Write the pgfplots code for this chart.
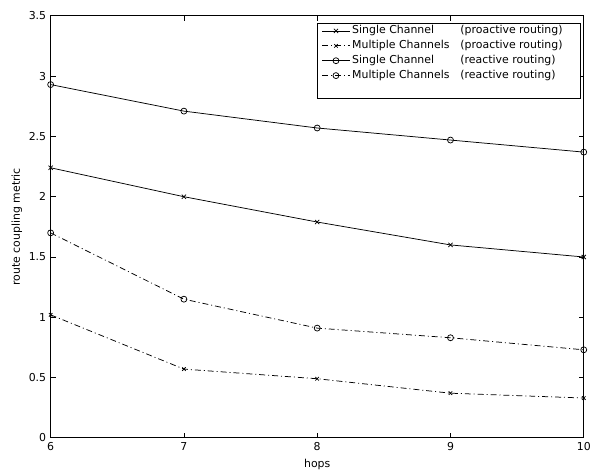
\documentclass[border=0pt]{standalone}
\usepackage{fontspec}
\setmainfont{DejaVu Sans}
\usepackage{pgfplots}
\pgfplotsset{compat=1.18}
\begin{document}
\begin{tikzpicture}
\begin{axis}[
  scale only axis,
  width=537bp, height=425bp,
  xmin=6, xmax=10, ymin=0, ymax=3.5,
  xtick={6,7,8,9,10},
  ytick={0,0.5,1,1.5,2,2.5,3,3.5},
  yticklabels={0,0.5,1,1.5,2,2.5,3,3.5},
  tick align=inside,
  major tick length=5bp,
  /pgf/number format/assume math mode=true,
  tick label style={font=\fontsize{11bp}{13bp}\selectfont},
  label style={font=\fontsize{11bp}{13bp}\selectfont},
  xticklabel style={yshift=-1bp},
  yticklabel style={xshift=-1bp},
  xlabel={hops},
  ylabel={route coupling metric},
  xlabel style={at={(axis description cs:0.5,-0.0635)}, anchor=center},
  ylabel style={at={(axis description cs:-0.0635,0.5)}, anchor=center},
  axis line style={line width=0.8bp},
  every tick/.style={line width=0.8bp, black},
  legend style={at={(0.9944,0.9835)}, anchor=north east, font=\fontsize{11bp}{13bp}\selectfont,
     draw=black, line width=0.8bp, row sep=4.5bp, inner xsep=4bp, inner ysep=2.5bp,
     nodes={inner xsep=2bp, inner ysep=0bp, text height=8bp, text depth=2.5bp}},
  legend image code/.code={\draw[mark repeat=2,mark phase=2] plot coordinates {(0bp,0bp)(14bp,0bp)(28bp,0bp)};},
  legend cell align=left,
  every axis plot/.append style={line width=0.75bp, black},
  xtick pos=both, ytick pos=both,
]
\addplot[solid, mark=x, mark size=3bp, mark options={solid}] coordinates {(6,2.24) (7,2.00) (8,1.79) (9,1.60) (10,1.50)};
\addlegendentry{\makebox[109bp][l]{Single Channel}(proactive routing)\rule{12bp}{0pt}}
\addplot[dash pattern=on 6bp off 3bp on 1bp off 3bp, mark=x, mark size=2.5bp, mark options={solid}] coordinates {(6,1.02) (7,0.57) (8,0.49) (9,0.37) (10,0.33)};
\addlegendentry{\makebox[109bp][l]{Multiple Channels}(proactive routing)\rule{12bp}{0pt}}
\addplot[solid, mark=o, mark size=3bp, mark options={solid}] coordinates {(6,2.93) (7,2.71) (8,2.57) (9,2.47) (10,2.37)};
\addlegendentry{\makebox[109bp][l]{Single Channel}(reactive routing)}
\addplot[dash pattern=on 6bp off 3bp on 1bp off 3bp, mark=o, mark size=3bp, mark options={solid}] coordinates {(6,1.70) (7,1.15) (8,0.91) (9,0.83) (10,0.73)};
\addlegendentry{\makebox[109bp][l]{Multiple Channels}(reactive routing)}
\addlegendimage{empty legend}
\addlegendentry{}
\end{axis}
\path (current axis.south west) ++(-51bp,-35bp) coordinate (bl);
\path (current axis.south west) ++(543bp,441bp) coordinate (tr);
\path (bl) rectangle (tr);
\end{tikzpicture}
\end{document}
